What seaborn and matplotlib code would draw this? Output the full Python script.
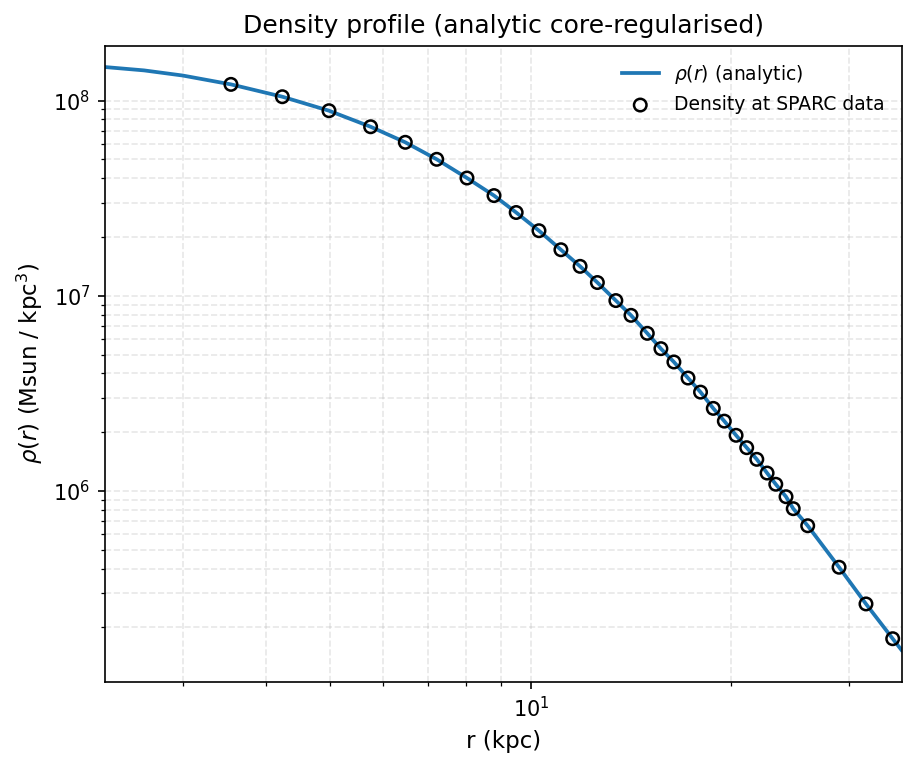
import numpy as np
import matplotlib
matplotlib.use("Agg")
import matplotlib.pyplot as plt
import seaborn as sns

# Radii of the SPARC data points (kpc)
r_data = [3.544, 4.233, 4.974, 5.744, 6.476, 7.219, 8.015, 8.800, 9.501, 10.28,
          11.09, 11.85, 12.58, 13.41, 14.13, 14.95, 15.67, 16.39, 17.21, 17.97,
          18.78, 19.51, 20.32, 21.08, 21.83, 22.62, 23.31, 24.15, 24.76, 26.03,
          29.01, 31.84, 34.92]

# Density at those radii (Msun / kpc^3)
rho_data = [1.210e8, 1.046e8, 8.87e7, 7.34e7, 6.11e7, 5.00e7, 4.01e7, 3.26e7, 2.67e7, 2.154e7,
            1.721e7, 1.415e7, 1.169e7, 9.45e6, 7.94e6, 6.42e6, 5.36e6, 4.58e6, 3.79e6, 3.21e6,
            2.65e6, 2.28e6, 1.929e6, 1.667e6, 1.453e6, 1.236e6, 1.083e6, 9.35e5, 8.12e5, 6.64e5,
            4.07e5, 2.64e5, 1.752e5]

# Analytic curve, read at the plot edges and along the data
r_curve = [2.29, 2.624, 3.0] + r_data + [36.0]
rho_curve = [1.485e8, 1.427e8, 1.343e8] + rho_data + [1.533e5]

fig = plt.figure(figsize=(917 / 150, 767 / 150), dpi=150)
ax = fig.add_axes([0.1145, 0.1112, 0.9831 - 0.1145, 0.9404 - 0.1112])

sns.lineplot(x=r_curve, y=rho_curve, ax=ax, color="#1f77b4", linewidth=1.8,
             sort=True, estimator=None, label=r"$\rho(r)$ (analytic)")
sns.scatterplot(x=r_data, y=rho_data, ax=ax, marker="o", s=36,
                facecolor="none", edgecolor="black", linewidth=1.2,
                label="Density at SPARC data", zorder=3)

ax.set_xscale("log")
ax.set_yscale("log")
ax.set_xlim(2.293, 36.0)
ax.set_ylim(1.055e5, 1.909e8)

ax.grid(True, which="both", linestyle="--", alpha=0.3)
ax.set_title("Density profile (analytic core-regularised)")
ax.set_xlabel("r (kpc)", fontsize=11)
ax.set_ylabel(r"$\rho(r)$ (Msun / kpc$^3$)", fontsize=11)
ax.legend(loc="upper right", frameon=False, fontsize=9)

plt.savefig("out.png", dpi=150)
